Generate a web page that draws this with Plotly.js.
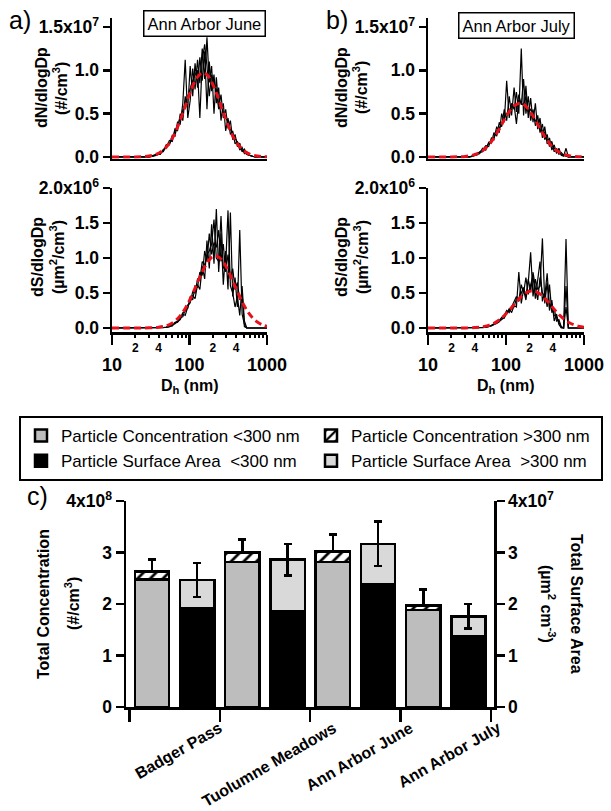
<!DOCTYPE html>
<html><head><meta charset="utf-8">
<script src="https://cdn.plot.ly/plotly-3.0.1.min.js"></script>
<style>html,body{margin:0;padding:0;background:#fff;}</style>
</head><body><div id="chart" style="width:611px;height:811px;"></div>
<script>
// ---------------- data ----------------
// diameter grid (nm) of the measured size distributions
const dp = [10, 15, 20, 25, 30, 34, 38, 42, 46, 50, 55, 60, 65, 70, 76, 82, 88, 95, 102, 110, 118, 127, 136, 146, 157, 168, 180, 193, 207, 222, 238, 255, 273, 293, 314, 337, 361, 387, 415, 445, 477, 511, 548, 588, 630, 700, 800, 1000];

// Ann Arbor June, dN/dlogDp (x1e7 #/cm3), three scans
const juneDN1 = [0,0,0,0,0, 0.01,0.02,0.04,0.07,0.12, 0.14,0.25,0.24,0.40,0.38, 0.62,1.12,0.45,0.65,1.02, 0.78,1.12,0.85,1.25,0.90, 1.38,0.86,1.05,0.50,0.92, 0.58,0.72,0.45,0.55,0.33, 0.42,0.20,0.26,0.12,0.16, 0.06,0.09,0.03,0.02,0.01, 0,0,0];
const juneDN2 = [0,0,0,0,0, 0.02,0.03,0.03,0.09,0.10, 0.19,0.18,0.33,0.30,0.50, 0.42,0.70,0.56,1.05,0.70, 1.08,0.80,1.15,0.88,1.22, 0.55,1.10,0.76,0.95,0.62, 0.80,0.42,0.62,0.30,0.45, 0.26,0.30,0.15,0.18,0.08, 0.11,0.04,0.06,0.02,0.01, 0,0,0];
const juneDN3 = [0,0,0,0,0, 0.01,0.04,0.06,0.06,0.14, 0.15,0.21,0.30,0.36,0.45, 0.55,0.62,0.70,0.80,0.88, 0.95,1.00,0.45,1.12,1.30, 1.05,0.70,0.95,0.85,0.78, 0.55,0.60,0.52,0.46,0.40, 0.32,0.27,0.22,0.16,0.12, 0.08,0.05,0.03,0.02,0.01, 0,0,0];

// Ann Arbor June, dS/dlogDp (x1e6 um2/cm3)
const juneDS1 = [0,0,0,0,0, 0,0,0,0.005,0.01, 0.02,0.04,0.06,0.09,0.12, 0.20,0.18,0.30,0.38,0.46, 0.42,0.62,0.55,0.88,0.70, 1.25,0.85,1.48,0.92,1.70, 0.80,1.35,0.62,1.10,0.55, 1.65,0.45,0.72,0.30,1.40, 0.20,0.05,0,0,0, 0,0,0];
const juneDS2 = [0,0,0,0,0, 0,0,0.002,0.006,0.012, 0.025,0.05,0.07,0.10,0.15, 0.16,0.26,0.28,0.45,0.40, 0.60,0.58,0.80,0.75,1.10, 0.95,1.35,1.05,1.22,1.15, 1.40,0.95,1.20,0.80,1.05, 0.70,0.85,0.55,0.65,0.40, 0.50,0.02,0,0,0, 0,0,0];
const juneDS3 = [0,0,0,0,0, 0,0,0,0.004,0.008, 0.02,0.03,0.08,0.08,0.14, 0.22,0.24,0.33,0.36,0.52, 0.50,0.70,0.68,0.95,0.90, 1.05,1.10,1.20,1.55,1.00, 0.95,1.60,0.85,0.90,1.68, 0.60,0.50,0.30,0.45,0.18, 0.60,0.10,0,0,0, 0,0,0];

// Ann Arbor July, dN/dlogDp (x1e7 #/cm3)
const julyDN1 = [0,0,0,0,0, 0,0.01,0.03,0.06,0.08, 0.13,0.12,0.22,0.20,0.35, 0.28,0.50,0.40,0.88,0.45, 0.62,0.55,0.75,0.50,1.25, 0.48,0.82,0.45,0.68,0.40, 0.62,0.32,0.45,0.22,0.35, 0.15,0.22,0.08,0.14,0.04, 0.10,0.02,0.01,0.10,0, 0,0,0];
const julyDN2 = [0,0,0,0,0, 0,0.02,0.02,0.04,0.10, 0.08,0.17,0.16,0.28,0.24, 0.40,0.35,0.55,0.42,0.70, 0.48,0.80,0.52,0.72,0.60, 0.90,0.50,0.70,0.42,0.55, 0.36,0.48,0.28,0.38,0.20, 0.26,0.12,0.18,0.06,0.10, 0.03,0.05,0.02,0.01,0, 0,0,0];
const julyDN3 = [0,0,0,0,0, 0,0.01,0.04,0.05,0.06, 0.11,0.15,0.19,0.23,0.30, 0.33,0.38,0.46,0.50,0.55, 0.58,0.60,0.38,0.66,0.62, 0.60,0.70,0.52,0.55,0.50, 0.42,0.40,0.36,0.30,0.28, 0.20,0.18,0.14,0.10,0.08, 0.05,0.03,0.02,0.01,0, 0,0,0];

// Ann Arbor July, dS/dlogDp (x1e6 um2/cm3)
const julyDS1 = [0,0,0,0,0, 0,0,0,0.003,0.006, 0.012,0.02,0.03,0.05,0.07, 0.10,0.12,0.16,0.20,0.28, 0.22,0.32,0.30,0.80,0.35, 0.55,0.40,0.65,1.08,0.45, 0.70,0.55,0.60,1.28,0.35, 0.65,0.25,0.40,0.10,0.20, 0.05,0,0,1.27,0, 0,0,0];
const julyDS2 = [0,0,0,0,0, 0,0,0.002,0.004,0.008, 0.015,0.025,0.04,0.06,0.08, 0.11,0.15,0.18,0.25,0.22, 0.30,0.38,0.45,0.40,0.62, 0.50,0.72,0.48,0.60,0.75, 0.42,0.68,0.95,0.38,0.52, 0.30,0.62,0.22,0.28,0.10, 0.12,0.02,0,0.60,0, 0,0,0];
const julyDS3 = [0,0,0,0,0, 0,0,0,0.002,0.005, 0.01,0.02,0.035,0.045,0.065, 0.09,0.13,0.14,0.22,0.25, 0.28,0.30,0.42,0.38,0.50, 0.58,0.45,0.70,0.52,0.80, 0.58,0.40,0.72,0.50,0.45, 0.78,0.30,0.35,0.18,0.15, 0.08,0.01,0,0.30,0, 0,0,0];

// lognormal fits (red dashed)
const fitDp = [10, 20, 30, 40, 50, 60, 70, 80, 90, 100, 115, 130, 150, 170, 190, 215, 240, 270, 300, 340, 380, 430, 490, 560, 650, 750, 870, 1000];
const juneDNfit = [0, 0.001, 0.010, 0.043, 0.113, 0.217, 0.344, 0.480, 0.609, 0.724, 0.856, 0.935, 0.970, 0.944, 0.878, 0.771, 0.655, 0.525, 0.412, 0.295, 0.207, 0.135, 0.080, 0.044, 0.021, 0.010, 0.004, 0.002];
const juneDSfit = [0, 0, 0.002, 0.011, 0.032, 0.073, 0.132, 0.209, 0.298, 0.395, 0.542, 0.679, 0.830, 0.938, 1.003, 1.030, 1.012, 0.952, 0.867, 0.742, 0.617, 0.482, 0.351, 0.240, 0.146, 0.085, 0.045, 0.023];
const julyDNfit = [0, 0.001, 0.006, 0.028, 0.072, 0.139, 0.220, 0.307, 0.390, 0.463, 0.548, 0.598, 0.621, 0.604, 0.562, 0.493, 0.419, 0.336, 0.264, 0.189, 0.132, 0.086, 0.051, 0.028, 0.013, 0.006, 0.003, 0.001];
const julyDSfit = [0, 0, 0.001, 0.006, 0.016, 0.038, 0.068, 0.108, 0.153, 0.203, 0.279, 0.350, 0.427, 0.483, 0.517, 0.530, 0.521, 0.490, 0.447, 0.382, 0.318, 0.248, 0.181, 0.124, 0.075, 0.044, 0.023, 0.012];

// panel c
const sites = ['Badger Pass', 'Tuolumne Meadows', 'Ann Arbor June', 'Ann Arbor July'];
const concBelow = [2.48, 2.82, 2.82, 1.88];   // x1e8 #/cm3
const concAbove = [0.15, 0.18, 0.20, 0.09];   // x1e8
const concErr   = [0.23, 0.25, 0.33, 0.31];   // x1e8
const saBelow   = [1.92, 1.86, 2.38, 1.37];   // x1e7 um2/cm3
const saAbove   = [0.55, 1.00, 0.79, 0.39];   // x1e7
const saErr     = [0.33, 0.31, 0.43, 0.24];   // x1e7

// tick labels
const sizeMajorTicks = [10, 100, 1000];
const sizeMajorText = ['10', '100', '1000'];
const sizeMinorTicks = [20, 30, 40, 50, 60, 70, 80, 90, 200, 300, 400, 500, 600, 700, 800, 900];
const sizeMinorText = ['2', '', '4', '', '', '', '', '', '2', '', '4', '', '', '', '', ''];

// ---------------- figure ----------------
const F = 'Liberation Sans, Arial, Helvetica, sans-serif';
const W = 611, H = 811;
const fx = p => p / W, fy = p => 1 - p / H;
const traces = [];

function addPanel(xa, ya, scans, fit, scale) {
  scans.forEach(arr => traces.push({
    type: 'scatter', mode: 'lines', x: dp, y: arr.map(v => v * scale),
    xaxis: xa, yaxis: ya, line: {color: '#000', width: 1.2}, showlegend: false, hoverinfo: 'skip'
  }));
  traces.push({
    type: 'scatter', mode: 'lines', x: fitDp, y: fit.map(v => v * scale),
    xaxis: xa, yaxis: ya, line: {color: '#e8101a', width: 3, dash: '7px,4px', shape: 'spline'},
    showlegend: false, hoverinfo: 'skip'
  });
}
addPanel('x', 'y', [juneDN1, juneDN2, juneDN3], juneDNfit, 1e7);
addPanel('x2', 'y2', [juneDS1, juneDS2, juneDS3], juneDSfit, 1e6);
addPanel('x3', 'y3', [julyDN1, julyDN2, julyDN3], julyDNfit, 1e7);
addPanel('x4', 'y4', [julyDS1, julyDS2, julyDS3], julyDSfit, 1e6);
// empty traces to host minor-tick overlay axes
traces.push({type: 'scatter', x: [], y: [], xaxis: 'x5', yaxis: 'y2', showlegend: false});
traces.push({type: 'scatter', x: [], y: [], xaxis: 'x6', yaxis: 'y4', showlegend: false});

const cx = sites.map((s, i) => 2 * i);
const sx = sites.map((s, i) => 2 * i + 1);
const barLine = {color: '#000', width: 2.5};
traces.push({type: 'bar', name: 'Particle Concentration <300 nm', x: cx, y: concBelow.map(v => v * 1e8),
  xaxis: 'x7', yaxis: 'y7', width: 0.76, marker: {color: '#bdbdbd', line: barLine}, hoverinfo: 'skip'});
traces.push({type: 'bar', name: 'Particle Concentration >300 nm', x: cx, y: concAbove.map(v => v * 1e8),
  xaxis: 'x7', yaxis: 'y7', width: 0.76,
  marker: {color: '#fff', line: barLine, pattern: {shape: '/', fgcolor: '#000', bgcolor: '#fff', size: 9, solidity: 0.3}},
  error_y: {type: 'data', symmetric: false, array: concErr.map(v => v * 1e8), arrayminus: concErr.map(() => 0),
    color: '#000', thickness: 2.5, width: 4}, hoverinfo: 'skip'});
traces.push({type: 'bar', name: 'Particle Surface Area\u00a0 <300 nm', x: sx, y: saBelow.map(v => v * 1e7),
  xaxis: 'x7', yaxis: 'y8', width: 0.76, marker: {color: '#000', line: barLine}, hoverinfo: 'skip'});
traces.push({type: 'bar', name: 'Particle Surface Area\u00a0 >300 nm', x: sx, y: saAbove.map(v => v * 1e7),
  xaxis: 'x7', yaxis: 'y8', width: 0.76, marker: {color: '#d9d9d9', line: barLine},
  error_y: {type: 'data', array: saErr.map(v => v * 1e7), color: '#000', thickness: 2.5, width: 4}, hoverinfo: 'skip'});

const tickFont = {family: F, size: 17.5, weight: 700, color: '#000'};
const base = {showgrid: false, zeroline: false, fixedrange: true, linecolor: '#000', tickcolor: '#000'};

function topY(anchor) {
  return Object.assign({}, base, {
    domain: [fy(158.7), fy(18.3)], anchor, range: [-0.02e7, 1.6e7],
    tickvals: [0, 0.5e7, 1e7, 1.5e7], ticktext: ['0.0', '0.5', '1.0', '1.5x10<sup>7</sup>'],
    ticks: 'outside', ticklen: 7, tickwidth: 2.5, showline: true, linewidth: 2.5, tickfont: tickFont
  });
}
function botY(anchor) {
  return Object.assign({}, base, {
    domain: [fy(332), fy(188)], anchor, range: [-0.057e6, 2.0e6],
    tickvals: [0, 0.5e6, 1e6, 1.5e6, 2e6], ticktext: ['0.0', '0.5', '1.0', '1.5', '2.0x10<sup>6</sup>'],
    ticks: 'outside', ticklen: 7, tickwidth: 2.5, showline: true, linewidth: 2.5, tickfont: tickFont
  });
}
function topX(domain, anchor) {
  return Object.assign({}, base, {domain, anchor, type: 'log', range: [1, 3], showline: true, linewidth: 2.5,
    ticks: '', showticklabels: false});
}
function botX(domain, anchor) {
  return Object.assign({}, base, {domain, anchor, type: 'log', range: [1, 3], showline: true, linewidth: 2.5,
    tickvals: sizeMajorTicks, ticktext: sizeMajorText, ticks: 'outside', ticklen: 10, tickwidth: 2.5,
    ticklabelstandoff: 5, tickfont: {family: F, size: 18, weight: 700, color: '#000'}});
}
function minorX(over, anchor) {
  return Object.assign({}, base, {overlaying: over, anchor, type: 'log', range: [1, 3], showline: false,
    tickvals: sizeMinorTicks, ticktext: sizeMinorText, ticks: 'outside', ticklen: 5, tickwidth: 2,
    tickfont: {family: F, size: 12, weight: 700, color: '#000'}});
}
const domA = [fx(112), fx(267)], domB = [fx(428), fx(584)];

const ann = [];
function addText(text, px, py, size, opts) {
  ann.push(Object.assign({text, xref: 'paper', yref: 'paper', x: fx(px), y: fy(py), showarrow: false,
    xanchor: 'center', yanchor: 'middle', font: {family: F, size, color: '#000'}}, opts || {}));
}
const bold = (s) => ({font: {family: F, size: s, weight: 700, color: '#000'}});
addText('a)', 20, 20, 25);
addText('b)', 337, 20, 25);
addText('c)', 37, 496, 25);
addText('Ann Arbor June', 204.5, 24, 16.5, {bordercolor: '#000', borderwidth: 1.5, borderpad: 3, bgcolor: '#fff'});
addText('Ann Arbor July', 516.5, 25, 16.5, {bordercolor: '#000', borderwidth: 1.5, borderpad: 3, bgcolor: '#fff'});
addText('dN/dlogDp', 41, 88, 16, Object.assign({textangle: -90}, bold(16)));
addText('(#/cm<sup>3</sup>)', 60, 88, 16, Object.assign({textangle: -90}, bold(16)));
addText('dN/dlogDp', 341, 88, 16, Object.assign({textangle: -90}, bold(16)));
addText('(#/cm<sup>3</sup>)', 360, 88, 16, Object.assign({textangle: -90}, bold(16)));
addText('dS/dlogDp', 37, 257, 16, Object.assign({textangle: -90}, bold(16)));
addText('(\u00b5m<sup>2</sup>/cm<sup>3</sup>)', 57, 257, 16, Object.assign({textangle: -90}, bold(16)));
addText('dS/dlogDp', 341, 257, 16, Object.assign({textangle: -90}, bold(16)));
addText('(\u00b5m<sup>2</sup>/cm<sup>3</sup>)', 361, 257, 16, Object.assign({textangle: -90}, bold(16)));
addText('D<sub>h</sub> (nm)', 189.5, 386, 16, bold(16));
addText('D<sub>h</sub> (nm)', 506, 386, 16, bold(16));
addText('Total Concentration', 43, 604, 16, Object.assign({textangle: -90}, bold(16)));
addText('(#/cm<sup>3</sup>)', 72, 604, 16, Object.assign({textangle: -90}, bold(16)));
addText('Total Surface Area', 577, 604, 16, Object.assign({textangle: 90}, bold(16)));
addText('(\u00b5m<sup>2</sup> cm<sup>-3</sup>)', 548, 604, 16, Object.assign({textangle: 90}, bold(16)));
sites.forEach((s, i) => ann.push({text: s, xref: 'x7', yref: 'paper', x: 2 * i + 0.5, xshift: 4, y: fy(716),
  xanchor: 'center', yanchor: 'top', textangle: -30, showarrow: false,
  font: {family: F, size: 16, weight: 700, color: '#000'}}));

const layout = {
  width: W, height: H, margin: {l: 0, r: 0, t: 0, b: 0},
  paper_bgcolor: '#fff', plot_bgcolor: 'rgba(0,0,0,0)',
  barmode: 'stack', showlegend: true,
  font: {family: F, color: '#000'},
  xaxis: topX(domA, 'y'), yaxis: topY('x'),
  xaxis2: botX(domA, 'y2'), yaxis2: botY('x2'),
  xaxis3: topX(domB, 'y3'), yaxis3: topY('x3'),
  xaxis4: botX(domB, 'y4'), yaxis4: botY('x4'),
  xaxis5: minorX('x2', 'y2'), xaxis6: minorX('x4', 'y4'),
  xaxis7: Object.assign({}, base, {domain: [fx(126), fx(494)], anchor: 'y7', range: [-0.575, 7.565],
    tickvals: [-0.5, 1.5, 3.5, 5.5, 7.5], ticks: 'outside', ticklen: 12, tickwidth: 2.5,
    showticklabels: false, showline: true, linewidth: 2.5}),
  yaxis7: Object.assign({}, base, {domain: [fy(707), fy(501)], anchor: 'x7', range: [0, 4e8],
    tickvals: [0, 1e8, 2e8, 3e8, 4e8], ticktext: ['0', '1', '2', '3', '4x10<sup>8</sup>'],
    ticks: 'outside', ticklen: 8, tickwidth: 2.5, showline: true, linewidth: 2.5, tickfont: tickFont}),
  yaxis8: Object.assign({}, base, {overlaying: 'y7', side: 'right', anchor: 'x7', range: [0, 4e7],
    tickvals: [0, 1e7, 2e7, 3e7, 4e7], ticktext: ['0', '1', '2', '3', '4x10<sup>7</sup>'],
    ticks: 'outside', ticklen: 8, tickwidth: 2.5, showline: true, linewidth: 2.5, tickfont: tickFont}),
  legend: {orientation: 'h', x: fx(19), y: fy(416), xanchor: 'left', yanchor: 'top',
    bordercolor: '#000', borderwidth: 2, bgcolor: '#fff', entrywidth: 245, entrywidthmode: 'pixels',
    font: {family: F, size: 17, color: '#000'}, traceorder: 'normal', itemclick: false},
  annotations: ann
};

Plotly.newPlot('chart', traces, layout, {displayModeBar: false, staticPlot: true});
</script>
</body></html>
